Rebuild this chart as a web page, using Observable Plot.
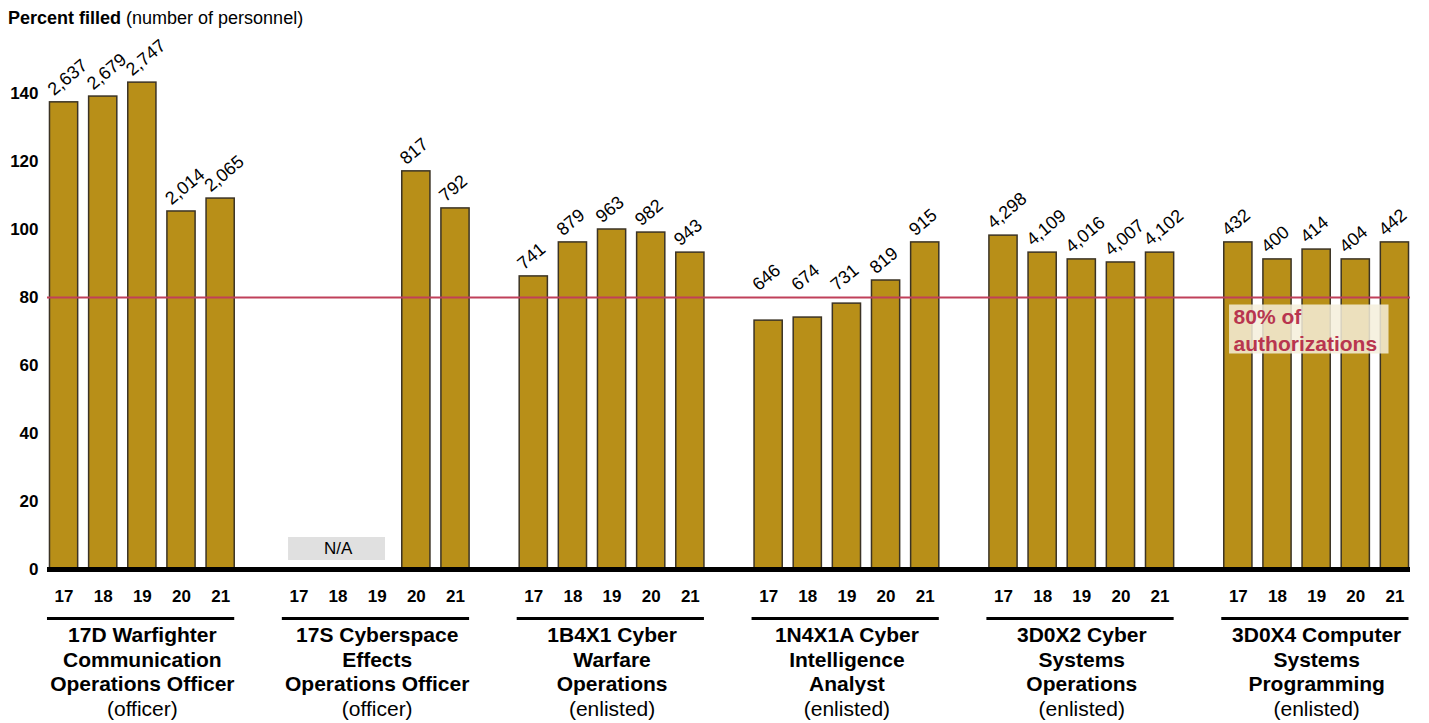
<!DOCTYPE html>
<html><head><meta charset="utf-8">
<script src="https://cdn.jsdelivr.net/npm/d3@7"></script>
<script src="https://cdn.jsdelivr.net/npm/@observablehq/plot@0.6"></script>
<style>
body{margin:0;background:#fff;font-family:"Liberation Sans",Arial,sans-serif;}
#title{height:30px;line-height:36px;padding-left:8px;font-size:18px;color:#000;}
#chart svg{overflow:visible;display:block;}
</style></head><body>
<div id="title"><b>Percent filled</b> (number of personnel)</div>
<div id="chart"></div>
<script>
const groupTitles = [
  "17D Warfighter\nCommunication\nOperations Officer",
  "17S Cyberspace\nEffects\nOperations Officer",
  "1B4X1 Cyber\nWarfare\nOperations",
  "1N4X1A Cyber\nIntelligence\nAnalyst",
  "3D0X2 Cyber\nSystems\nOperations",
  "3D0X4 Computer\nSystems\nProgramming"
];
const groupTypes = ["(officer)", "(officer)", "(enlisted)", "(enlisted)", "(enlisted)", "(enlisted)"];
const years = ["17", "18", "19", "20", "21"];

const pct17D = [137.4, 139.1, 143.2, 105.3, 109.1];
const pct17S = [null, null, null, 117.1, 106.2];
const pct1B4X1 = [86.2, 96.2, 100.0, 99.1, 93.2];
const pct1N4X1A = [73.2, 74.1, 78.2, 85.0, 96.2];
const pct3D0X2 = [98.2, 93.2, 91.2, 90.3, 93.2];
const pct3D0X4 = [96.2, 91.2, 94.1, 91.2, 96.2];

const count17D = [2637, 2679, 2747, 2014, 2065];
const count17S = [null, null, null, 817, 792];
const count1B4X1 = [741, 879, 963, 982, 943];
const count1N4X1A = [646, 674, 731, 819, 915];
const count3D0X2 = [4298, 4109, 4016, 4007, 4102];
const count3D0X4 = [432, 400, 414, 404, 442];

const threshold = 80;
const thresholdLabel = "80% of\nauthorizations";
const naLabel = "N/A";
const yTicks = [0, 20, 40, 60, 80, 100, 120, 140];

const pctByGroup = [pct17D, pct17S, pct1B4X1, pct1N4X1A, pct3D0X2, pct3D0X4];
const countByGroup = [count17D, count17S, count1B4X1, count1N4X1A, count3D0X2, count3D0X4];

const domain = [];
const rows = [];
groupTitles.forEach((t, gi) => {
  if (gi > 0) domain.push("gap" + gi);
  years.forEach((yr, yi) => {
    const key = gi + "|" + yr;
    domain.push(key);
    rows.push({key, gi, yr, pct: pctByGroup[gi][yi], count: countByGroup[gi][yi]});
  });
});
const bars = rows.filter(d => d.pct != null);
const naRows = rows.filter(d => d.pct == null);
const naSpan = naRows.length ? [{x1: naRows[0].key, x2: naRows[naRows.length - 1].key, mid: naRows[Math.floor(naRows.length / 2)].key}] : [];
const groups = groupTitles.map((title, gi) => ({
  title, type: groupTypes[gi],
  first: gi + "|" + years[0], mid: gi + "|" + years[2], last: gi + "|" + years[years.length - 1]
}));
const lastG = groups.length - 1;
const labelBox = [{x1: lastG + "|" + years[0], x2: lastG + "|" + years[4]}];
const fmt = d3.format(",");

const chart = Plot.plot({
  width: 1429,
  height: 693,
  marginLeft: 44,
  marginRight: 15,
  marginTop: 63,
  marginBottom: 154,
  style: {fontFamily: "'Liberation Sans', Arial, sans-serif", fontSize: "17px", fontWeight: "bold", color: "#000", background: "#fff", overflow: "visible"},
  x: {domain, round: false, paddingInner: 0.28, paddingOuter: 0.14, tickSize: 0, tickPadding: 20, label: null,
      tickFormat: k => k.startsWith("gap") ? "" : k.split("|")[1]},
  y: {domain: [0, 140], ticks: yTicks, tickSize: 0, tickPadding: 6, label: null},
  marks: [
    Plot.barY(bars, {x: "key", y: "pct", fill: "#b88f18", stroke: "#3b3325", strokeWidth: 1.5}),
    Plot.ruleY(naSpan, {x1: "x1", x2: "x2", y: () => 0, dy: -21, stroke: "#e0e0e0", strokeWidth: 23, insetLeft: 3.7, insetRight: 5.8}),
    Plot.text(naSpan, {x: "mid", y: () => 0, dy: -21, text: () => naLabel, fontWeight: "normal", fontSize: 17}),
    Plot.ruleY([0], {stroke: "#000", strokeWidth: 5, insetLeft: 3, insetRight: 4}),
    Plot.ruleY([threshold], {stroke: "#c0405a", strokeWidth: 2, insetLeft: 3, insetRight: 4}),
    Plot.ruleY(labelBox, {x1: "x1", x2: "x2", y: () => threshold, dy: 31.5, stroke: "#f5eedb", strokeOpacity: 0.85, strokeWidth: 49, insetLeft: 5.3, insetRight: 20}),
    Plot.text(labelBox, {x: "x1", y: () => threshold, dx: -4.8, dy: 31, text: () => thresholdLabel, textAnchor: "start", lineAnchor: "middle", lineHeight: 1.29, fill: "#b8354f", fontWeight: "bold", fontSize: 21}),
    Plot.text(bars, {x: "key", y: d => Math.max(d.pct, threshold), text: d => fmt(d.count), rotate: -40, textAnchor: "start", lineAnchor: "bottom", dx: -10, dy: -6, fontWeight: "normal", fontSize: 18}),
    Plot.ruleY(groups, {x1: "first", x2: "last", y: () => 0, dy: 49, stroke: "#000", strokeWidth: 3, insetLeft: -2.5, insetRight: 0}),
    Plot.text(groups, {x: "mid", y: () => 0, dy: 89, text: "title", lineAnchor: "middle", lineHeight: 1.19, fontSize: 21, fontWeight: "bold"}),
    Plot.text(groups, {x: "mid", y: () => 0, dy: 140, text: "type", fontSize: 21, fontWeight: "normal"})
  ]
});
document.getElementById("chart").appendChild(chart);
</script>
</body></html>
